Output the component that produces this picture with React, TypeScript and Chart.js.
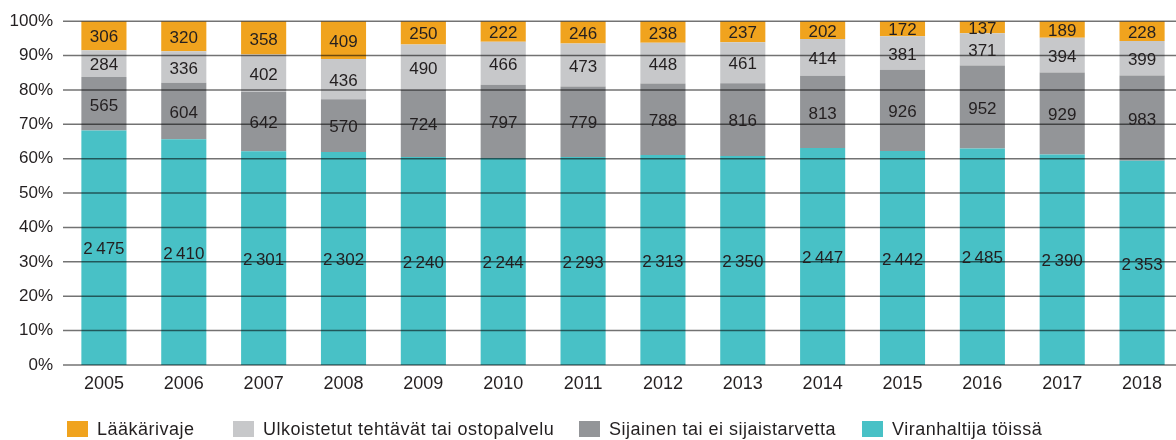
import React, { useEffect, useRef } from "react";
import { Chart, registerables } from "chart.js";

Chart.register(...registerables);

const years = ["2005", "2006", "2007", "2008", "2009", "2010", "2011", "2012", "2013", "2014", "2015", "2016", "2017", "2018"];
const laakarivaje = [306, 320, 358, 409, 250, 222, 246, 238, 237, 202, 172, 137, 189, 228];
const ulkoistetut = [284, 336, 402, 436, 490, 466, 473, 448, 461, 414, 381, 371, 394, 399];
const sijainen = [565, 604, 642, 570, 724, 797, 779, 788, 816, 813, 926, 952, 929, 983];
const viranhaltija = [2475, 2410, 2301, 2302, 2240, 2244, 2293, 2313, 2350, 2447, 2442, 2485, 2390, 2353];
const yTicks = [0, 10, 20, 30, 40, 50, 60, 70, 80, 90, 100];

const seriesNames = ["Viranhaltija töissä", "Sijainen tai ei sijaistarvetta", "Ulkoistetut tehtävät tai ostopalvelu", "Lääkärivaje"];
const seriesColors = ["#48c1c6", "#939598", "#c7c8ca", "#f0a31e"];
const legendOrder = [3, 2, 1, 0];

const FONT = '"Liberation Sans", Arial, Helvetica, sans-serif';
const TEXT = "#231f20";

const rawSeries = [viranhaltija, sijainen, ulkoistetut, laakarivaje];
const totals = years.map((_, i) => rawSeries.reduce((s, arr) => s + arr[i], 0));

const fmt = (n: number) => {
  const s = String(n);
  return s.length > 3 ? s.slice(0, s.length - 3) + "\u2009" + s.slice(s.length - 3) : s;
};

const overlayPlugin = {
  id: "overlay",
  afterDatasetsDraw(chart: any) {
    const ctx = chart.ctx;
    const { left } = chart.chartArea;
    const yScale = chart.scales.y;
    ctx.save();
    ctx.strokeStyle = "rgba(0,0,0,0.55)";
    ctx.lineWidth = 1.5;
    yTicks.forEach((t) => {
      const y = yScale.getPixelForValue(t);
      ctx.beginPath();
      ctx.moveTo(left - 1, y);
      ctx.lineTo(chart.width, y);
      ctx.stroke();
    });
    ctx.font = `17px ${FONT}`;
    ctx.fillStyle = TEXT;
    ctx.textAlign = "center";
    ctx.textBaseline = "middle";
    chart.data.datasets.forEach((_: any, di: number) => {
      const meta = chart.getDatasetMeta(di);
      const raw = rawSeries[di];
      meta.data.forEach((el: any, i: number) => {
        const y = (el.y + el.base) / 2 + 2;
        ctx.fillText(fmt(raw[i]), el.x, y);
      });
    });
    ctx.restore();
  },
  afterDraw(chart: any) {
    const ctx = chart.ctx;
    const boxX = [67, 233, 579, 862];
    ctx.save();
    ctx.font = `18px ${FONT}`;
    ctx.textBaseline = "middle";
    ctx.textAlign = "left";
    try {
      (ctx as any).letterSpacing = "0.5px";
    } catch (e) {}
    legendOrder.forEach((si, k) => {
      const x = boxX[k];
      ctx.fillStyle = seriesColors[si];
      ctx.fillRect(x, 421, 21, 16);
      ctx.fillStyle = TEXT;
      ctx.fillText(seriesNames[si], x + 30, 430);
    });
    ctx.restore();
  },
};

export default function App() {
  const ref = useRef<HTMLCanvasElement | null>(null);
  useEffect(() => {
    if (!ref.current) return;
    const chart = new Chart(ref.current, {
      type: "bar",
      data: {
        labels: years,
        datasets: rawSeries.map((arr, si) => ({
          label: seriesNames[si],
          data: arr.map((v, i) => (v / totals[i]) * 100),
          backgroundColor: seriesColors[si],
          borderWidth: 0,
          categoryPercentage: 1,
          barPercentage: 0.565,
        })),
      },
      options: {
        responsive: false,
        animation: false,
        layout: { padding: { top: 19, right: 2, left: 0, bottom: 0 } },
        plugins: { legend: { display: false }, tooltip: { enabled: false } },
        scales: {
          x: {
            stacked: true,
            grid: { display: false, drawTicks: false },
            border: { display: false },
            ticks: { font: { size: 18, family: FONT }, color: TEXT, padding: 8 },
            afterFit: (s: any) => {
              s.height = 75;
            },
          },
          y: {
            stacked: true,
            min: 0,
            max: 100,
            grid: { display: false, drawTicks: false },
            border: { display: false },
            ticks: {
              stepSize: 10,
              font: { size: 17, family: FONT },
              color: TEXT,
              padding: 11,
              callback: (v: any) => v + "%",
            },
            afterFit: (s: any) => {
              s.width = 64;
            },
          },
        },
      },
      plugins: [overlayPlugin],
    });
    return () => chart.destroy();
  }, []);
  return (
    <div style={{ position: "absolute", left: 0, top: 0, width: 1176, height: 440, overflow: "hidden", background: "#fff" }}>
      <canvas ref={ref} width={1184} height={440} style={{ display: "block" }} />
    </div>
  );
}
